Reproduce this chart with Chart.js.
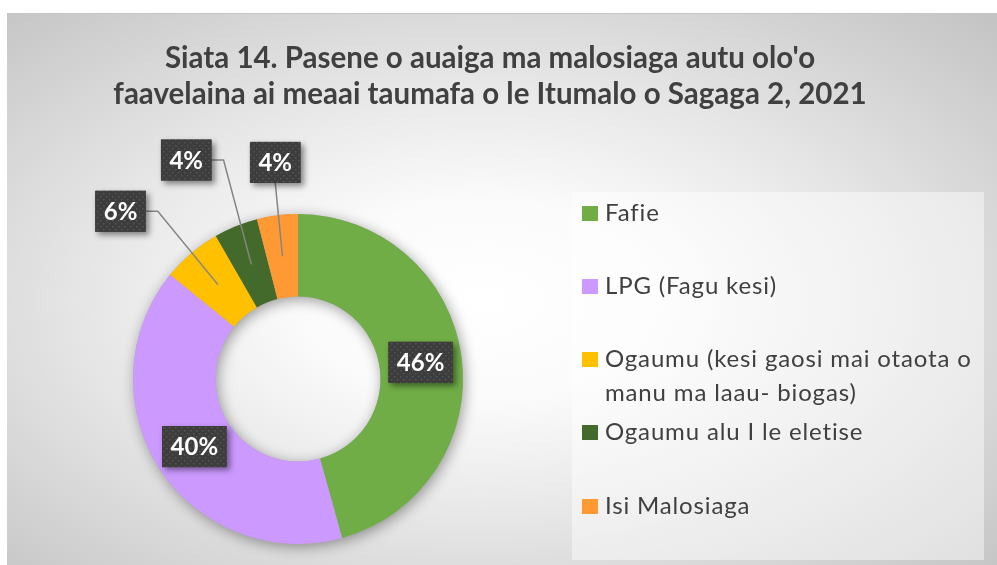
<!DOCTYPE html>
<html lang="sm">
<head>
    <meta charset="UTF-8">
    <title>Siata 14 - Malosiaga autu</title>
    <style>
        body { margin: 0; background: #ffffff; }
        #wrap { position: relative; width: 997px; height: 565px; overflow: hidden; }
        #panel {
            position: absolute; left: 7px; top: 13px; right: 0; bottom: 0;
            border-top: 1px solid #c4c4c4;
            background: radial-gradient(ellipse farthest-corner at 48% 52%, #ffffff 0%, #fbfbfb 24%, #e8e8e8 52%, #c3c3c3 100%);
        }
        #myChart { position: absolute; left: 0; top: 0; }
        #legend {
            position: absolute; left: 572px; top: 192px; width: 412px; height: 368px;
            background: rgba(255, 255, 255, 0.45);
            margin: 0; padding: 0; list-style: none;
            font-family: Lato, "Open Sans", sans-serif; font-size: 24px; color: #404040;
            letter-spacing: 0.85px;
            font-variant-ligatures: none;
        }
        #legend li { position: absolute; left: 10px; width: 400px; line-height: 34px; }
        #legend .box { position: absolute; left: 0; top: 11px; width: 16px; height: 15px; }
        #legend .txt { display: block; margin-left: 23px; width: 377px; }
    </style>
</head>
<body>
    <div id="wrap">
        <div id="panel"></div>
        <canvas id="myChart" width="997" height="565" role="img"
                aria-label="Siata 14. Pasene o auaiga ma malosiaga autu"></canvas>
        <ul id="legend"></ul>
    </div>

    <script src="https://cdn.jsdelivr.net/npm/chart.js@4.4.1/dist/chart.umd.min.js"></script>
    <script>
        var titleLines = [
            "Siata 14. Pasene o auaiga ma malosiaga autu olo'o",
            "faavelaina ai meaai taumafa o le Itumalo o Sagaga 2, 2021"
        ];
        var categories = [
            'Fafie',
            'LPG (Fagu kesi)',
            'Ogaumu (kesi gaosi mai otaota o manu ma laau- biogas)',
            'Ogaumu alu I le eletise',
            'Isi Malosiaga'
        ];
        var shares = [45.7, 40.2, 5.8, 4.3, 4.0];
        var sliceColors = ['#70ad47', '#cc99ff', '#ffc000', '#436a2a', '#ff9933'];

        // where the small slices put their label box: angle shift (deg) and distance / outer radius
        var callouts = [null, null, { turn: -6.3, dist: 1.48 }, { turn: -4.9, dist: 1.49 }, { turn: 1.2, dist: 1.32 }];

        // html legend, one row every 73px, long names wrap
        var legendEl = document.getElementById('legend');
        categories.forEach(function (name, i) {
            var li = document.createElement('li');
            li.style.top = (2.5 + i * 73.3) + 'px';
            li.innerHTML = '<span class="box" style="background:' + sliceColors[i] + '"></span>' +
                '<span class="txt">' + name + '</span>';
            legendEl.appendChild(li);
        });

        function dotPattern(ctx) {
            var c = document.createElement('canvas');
            c.width = 6; c.height = 6;
            var p = c.getContext('2d');
            p.fillStyle = '#3d3d3d';
            p.fillRect(0, 0, 6, 6);
            p.fillStyle = '#555555';
            p.fillRect(1, 1, 1.5, 1.5);
            p.fillRect(4, 4, 1.5, 1.5);
            return ctx.createPattern(c, 'repeat');
        }

        var titlePlugin = {
            id: 'sheetTitle',
            afterDraw: function (chart) {
                var ctx = chart.ctx;
                ctx.save();
                ctx.font = 'bold 29.5px Lato, "Open Sans", sans-serif';
                ctx.fillStyle = '#404040';
                ctx.textAlign = 'center';
                ctx.fillText(titleLines[0], 490, 68);
                ctx.fillText(titleLines[1], 490, 104);
                ctx.restore();
            }
        };

        // soft shadow under the whole ring
        var ringShadow = {
            id: 'ringShadow',
            beforeDatasetsDraw: function (chart) {
                var a = chart.getDatasetMeta(0).data[0];
                if (!a) return;
                var ctx = chart.ctx;
                ctx.save();
                ctx.shadowColor = 'rgba(0,0,0,0.38)';
                ctx.shadowBlur = 14;
                ctx.shadowOffsetX = 2;
                ctx.shadowOffsetY = 3;
                ctx.fillStyle = '#a8a8a8';
                ctx.beginPath();
                ctx.arc(a.x, a.y, a.outerRadius, 0, Math.PI * 2);
                ctx.arc(a.x, a.y, a.innerRadius, 0, Math.PI * 2, true);
                ctx.fill('evenodd');
                ctx.restore();
            }
        };

        var percentLabels = {
            id: 'percentLabels',
            afterDatasetsDraw: function (chart) {
                var ctx = chart.ctx;
                var meta = chart.getDatasetMeta(0);
                var total = shares.reduce(function (s, v) { return s + v; }, 0);
                var pattern = dotPattern(ctx);
                ctx.save();
                ctx.font = 'bold 24px Lato, "Open Sans", sans-serif';
                meta.data.forEach(function (arc, i) {
                    var text = Math.round(shares[i] / total * 100) + '%';
                    var mid = arc.tooltipPosition();
                    var bx = mid.x, by = mid.y;
                    var w = ctx.measureText(text).width + 17, h = 41;
                    var c = callouts[i];
                    if (c) {
                        var ang = (arc.startAngle + arc.endAngle) / 2 + c.turn * Math.PI / 180;
                        var d = arc.outerRadius * c.dist;
                        bx = arc.x + Math.cos(ang) * d;
                        by = arc.y + Math.sin(ang) * d;
                        // leader line
                        ctx.strokeStyle = '#858585';
                        ctx.lineWidth = 1.5;
                        ctx.beginPath();
                        if (mid.x - bx > w / 2 + 6) {
                            ctx.moveTo(bx + w / 2, by);
                            ctx.lineTo(bx + w / 2 + 12, by);
                        } else {
                            ctx.moveTo(bx, by + h / 2);
                        }
                        ctx.lineTo(mid.x, mid.y);
                        ctx.stroke();
                    }
                    var x0 = bx - w / 2, y0 = by - h / 2;
                    ctx.shadowColor = 'rgba(0,0,0,0.45)';
                    ctx.shadowBlur = 6;
                    ctx.shadowOffsetX = 3;
                    ctx.shadowOffsetY = 3;
                    ctx.fillStyle = '#3d3d3d';
                    ctx.fillRect(x0, y0, w, h);
                    ctx.shadowColor = 'transparent';
                    ctx.fillStyle = pattern;
                    ctx.fillRect(x0, y0, w, h);
                    ctx.fillStyle = '#ffffff';
                    ctx.textAlign = 'center';
                    ctx.textBaseline = 'alphabetic';
                    ctx.fillText(text, bx, y0 + 29);
                });
                ctx.restore();
            }
        };

        var ctx = document.getElementById('myChart').getContext('2d');
        var myDoughnut = new Chart(ctx, {
            type: 'doughnut',
            data: {
                labels: categories,
                datasets: [{
                    data: shares,
                    backgroundColor: sliceColors,
                    borderWidth: 0,
                    hoverOffset: 0
                }]
            },
            options: {
                responsive: false,
                animation: false,
                events: [],
                cutout: '50%',
                layout: { autoPadding: false, padding: { left: 133, right: 534, top: 214, bottom: 21 } },
                plugins: {
                    legend: { display: false },
                    title: { display: false },
                    tooltip: { enabled: false }
                }
            },
            plugins: [ringShadow, percentLabels, titlePlugin]
        });
    </script>
</body>
</html>
